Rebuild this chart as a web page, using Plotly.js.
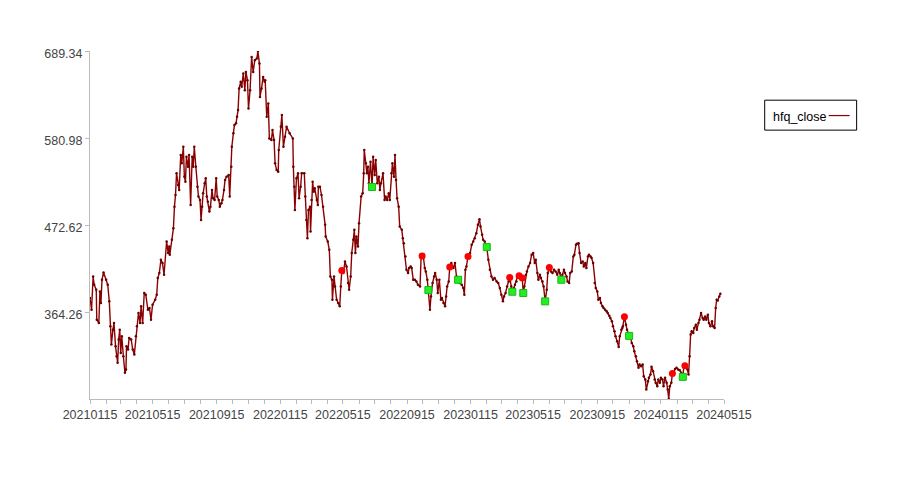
<!DOCTYPE html>
<html>
<head>
<meta charset="utf-8">
<script src="https://cdn.plot.ly/plotly-3.0.1.min.js"></script>
<style>html,body{margin:0;padding:0;background:#fff;}#chart{width:900px;height:500px;}</style>
</head>
<body>
<div id="chart"></div>
<script>
// Trading days as day offsets from the first date (2021-01-15)
const startDate = '2021-01-15';
const dayOffsets = [
0,3,6,8,12,13,17,19,21,23,26,31,34,37,39,41,44,46,49,51,53,55,57,59,61,64,67,69,70,73,75,79,82,85,88,90,93,96,98,101,104,107,111,114,117,120,125,128,130,133,136,139,142,147,150,152,
153,157,160,162,164,166,169,171,174,176,179,181,183,185,188,190,193,196,198,200,203,206,208,211,213,215,217,220,222,224,226,229,231,234,236,239,242,244,247,249,252,254,257,259,262,266,268,271,272,275,277,280,282,284,286,289,291,294,297,299,302,304,307,310,313,316,320,322,325,326,329,332,335,
336,339,342,344,348,350,353,355,358,361,362,366,368,371,374,377,383,389,390,392,393,396,399,401,404,406,411,413,415,417,419,422,423,425,427,429,431,435,437,438,441,444,447,451,452,456,459,461,464,465,468,470,473,476,479,481,483,486,489,492,495,497,500,502,505,
507,509,511,514,516,520,523,525,526,529,531,533,535,538,541,543,546,548,551,554,556,558,562,565,567,570,573,575,578,580,583,585,587,589,592,594,598,600,602,605,607,610,612,615,617,620,623,626,629,633,635,637,639,642,644,647,649,652,654,657,660,662,665,667,670,673,675,678,
681,683,685,688,690,693,697,700,703,706,709,713,716,718,720,722,725,729,732,735,738,741,744,747,749,752,754,757,761,764,767,770,773,776,780,783,786,789,792,794,797,800,803,805,808,810,813,815,818,820,823,826,829,831,833,836,838,841,844,
847,850,853,855,858,860,863,865,868,870,873,876,878,881,884,887,890,893,896,899,901,904,906,909,911,914,916,919,921,924,927,929,932,934,937,939,942,945,947,950,952,955,957,960,962,965,968,970,973,975,978,980,983,985,988,991,993,996,998,1001,1003,1006,1008,1011,1014,1016,1019,1021,1022,1025,1028,1030,1034,1037,1039,1042,1044,1047,1049,1052,1054,1057,1060,1062,1065,1067,1070,1072,1075,1077,1080,1083,1085,1088,1090,1093,1095,1098,1100,1103,1106,1108,1110,1112,1115,1117,1120,1122,1125,1128,1131,1134,1137,1139,1141,1144,1146,1148,1150,1152,1154,1157,1159,1162,1164,1167,1169,1172,1175,1177,1180,1182,1185,1187,1190,1193,1195,1198,1200,1202,1204,1207,1209
];
const hfqClose = [
381.7,367.1,408.5,398.2,392.0,354.7,350.6,389.9,375.5,404.4,413.5,404.4,398.2,377.5,346.4,323.7,342.3,350.6,321.5,309.1,300.9,329.9,342.3,313.3,334.0,309.1,288.5,292.6,321.5,317.5,332.0,329.9,317.5,311.2,334.0,346.4,363.1,350.6,371.3,350.6,387.9,385.8,367.1,369.3,354.7,373.4,379.6,385.8,406.6,412.8,429.3,425.2,410.7,452.0,437.6,445.8,
435.5,454.2,468.7,495.5,510.0,537.0,522.5,516.3,559.7,549.4,570.1,532.8,526.6,557.6,545.2,559.7,497.6,557.6,545.2,570.1,545.2,520.4,508.0,503.9,479.0,495.5,512.2,524.6,530.8,508.0,501.7,489.3,495.5,516.3,506.0,503.9,530.8,508.0,503.9,495.5,499.8,503.9,516.3,528.7,532.8,534.9,508.0,545.2,570.1,586.8,597.1,599.2,607.4,615.7,642.7,650.9,644.7,661.3,640.5,663.3,653.0,617.8,640.5,681.9,663.3,677.8,680.0,689.34,673.7,632.2,642.7,657.1,650.9,
653.0,607.4,624.0,580.5,578.4,590.8,578.4,549.4,541.1,539.0,566.0,595.0,609.5,570.1,582.5,595.0,586.8,580.5,545.2,520.4,491.4,530.8,537.0,506.0,520.4,537.0,537.0,508.0,479.0,456.2,491.4,495.5,464.4,503.9,526.6,514.1,518.4,503.9,497.6,520.4,520.4,510.0,495.5,472.8,458.2,452.0,441.7,408.5,404.4,379.6,408.5,396.1,379.6,375.5,371.3,396.1,416.0,412.8,427.2,421.0,400.3,392.0,408.5,437.6,454.2,
466.6,437.6,458.2,445.8,474.9,508.0,512.2,537.0,566.0,549.4,537.0,545.2,524.6,551.5,520.0,557.6,534.9,553.5,524.6,532.8,516.3,524.6,537.0,503.9,508.0,503.9,512.2,503.9,537.0,549.4,532.8,559.7,528.7,506.0,495.5,470.7,466.6,456.2,450.0,433.4,416.9,412.8,419.0,421.0,419.0,404.4,404.4,402.3,398.2,396.1,431.4,433.9,435.5,419.0,414.8,404.4,391.6,367.1,383.7,400.3,408.5,412.8,404.4,387.9,404.4,379.6,381.7,375.5,
371.3,383.7,396.1,402.3,420.2,425.2,419.0,425.2,408.5,404.4,400.3,398.2,394.1,385.8,416.9,421.0,433.4,437.6,447.9,452.0,456.2,462.5,472.8,479.9,470.7,460.4,454.2,452.0,445.1,429.3,416.9,408.5,404.4,406.6,402.3,400.3,394.1,385.8,377.5,383.7,387.9,396.1,402.3,407.3,396.1,389.5,394.1,398.2,402.3,408.5,409.4,408.5,406.6,387.9,396.1,410.7,414.8,421.0,425.2,
435.5,437.6,425.2,429.3,412.8,404.4,410.7,406.6,402.3,396.1,377.5,392.0,412.8,419.7,414.8,412.8,416.9,414.8,410.7,416.9,412.8,404.4,410.7,416.9,412.8,408.5,402.3,400.3,412.8,414.8,433.4,435.5,447.9,449.2,450.0,437.6,425.2,427.2,421.0,425.2,419.0,433.4,435.5,433.4,431.4,425.2,400.3,394.1,389.9,379.6,381.7,375.5,371.3,369.3,367.1,365.1,363.1,359.7,356.9,352.6,346.4,340.2,334.0,327.8,320.8,334.0,342.3,344.4,346.4,358.4,348.5,342.3,334.5,332.0,325.8,321.5,315.3,309.1,302.9,294.7,298.8,296.7,298.8,284.3,280.2,267.7,278.1,282.3,286.4,296.0,290.5,280.2,276.1,271.9,280.2,276.1,282.3,280.2,271.9,282.3,276.1,267.7,255.9,271.9,276.1,287.6,288.5,293.4,294.7,292.6,291.7,288.5,283.5,296.0,297.2,296.7,292.6,286.4,309.1,336.1,340.2,338.2,344.4,348.5,342.3,350.6,354.7,363.1,356.9,354.7,358.8,354.7,360.9,350.6,346.4,352.6,346.4,344.4,369.3,379.6,378.7,383.7,387.0
];
// Buy (red circle) and sell (green square) signals
const buyOffsets = [483,637,690,725,805,823,829,881,1025,1117,1141];
const buyValues  = [416.0,433.9,420.2,433.4,407.3,409.4,406.6,419.7,358.4,287.6,297.2];
const sellOffsets = [541,649,706,761,810,831,873,904,1034,1137];
const sellValues  = [520.0,391.6,404.4,445.1,389.5,387.9,377.5,404.4,334.5,283.5];

// Axis ticks
const xTickDates  = ['2021-01-15','2021-05-15','2021-09-15','2022-01-15','2022-05-15','2022-09-15','2023-01-15','2023-05-15','2023-09-15','2024-01-15','2024-05-15'];
const xTickLabels = ['20210115','20210515','20210915','20220115','20220515','20220915','20230115','20230515','20230915','20240115','20240515'];
const yTickValues = [364.26,472.62,580.98,689.34];
const yTickLabels = ['364.26','472.62','580.98','689.34'];
const yRange = [255.9, 689.34];
const seriesName = 'hfq_close';

const base = Date.parse(startDate + 'T00:00:00Z');
const toDate = d => new Date(base + d * 86400000).toISOString().slice(0, 10);

const traces = [
  {
    x: dayOffsets.map(toDate), y: hfqClose, type: 'scatter', mode: 'lines+markers',
    name: seriesName, showlegend: false,
    line: {color: '#8b0000', width: 1.4},
    marker: {size: 2.5, color: '#6a0000'},
    hoverinfo: 'skip'
  },
  {
    x: buyOffsets.map(toDate), y: buyValues, type: 'scatter', mode: 'markers',
    showlegend: false, marker: {symbol: 'circle', size: 7, color: '#ff0000'}
  },
  {
    x: sellOffsets.map(toDate), y: sellValues, type: 'scatter', mode: 'markers',
    showlegend: false, marker: {symbol: 'square', size: 7, color: '#22ee22', line: {color: '#18b818', width: 1}}
  }
];

const tickFont = {family: 'Liberation Sans, Arial, sans-serif', size: 12.5, color: '#444'};

const layout = {
  width: 900, height: 500,
  paper_bgcolor: '#fff', plot_bgcolor: '#fff',
  margin: {l: 90, r: 176, t: 50.5, b: 100.5},
  showlegend: false,
  xaxis: {
    type: 'date', range: [xTickDates[0], xTickDates[xTickDates.length - 1]],
    tickmode: 'array', tickvals: xTickDates, ticktext: xTickLabels,
    ticks: 'outside', ticklen: 4, tickcolor: '#bbb', tickwidth: 1,
    minor: {tickmode: 'linear', tick0: '2021-01-15', dtick: 'M1', ticks: 'outside', ticklen: 4, tickcolor: '#bbb', showgrid: false},
    showline: true, linecolor: '#bbb', linewidth: 1,
    showgrid: false, zeroline: false, tickfont: tickFont
  },
  yaxis: {
    range: yRange, tickmode: 'array', tickvals: yTickValues, ticktext: yTickLabels,
    ticks: 'outside', ticklen: 4, tickcolor: '#bbb', ticklabelshift: 3,
    showline: true, linecolor: '#bbb', linewidth: 1,
    showgrid: false, zeroline: false, tickfont: tickFont
  },
  shapes: [
    {type: 'rect', xref: 'paper', yref: 'paper', x0: 1.0642, x1: 1.2092, y0: 0.7726, y1: 0.8587,
     line: {color: '#000', width: 1}, fillcolor: '#fff'},
    {type: 'line', xref: 'paper', yref: 'paper', x0: 1.1651, x1: 1.1982, y0: 0.8145, y1: 0.8145,
     line: {color: '#8b0000', width: 1.2}}
  ],
  annotations: [
    {xref: 'paper', yref: 'paper', x: 1.0747, y: 0.8115, xanchor: 'left', yanchor: 'middle',
     text: seriesName, showarrow: false,
     font: {family: 'Liberation Sans, Arial, sans-serif', size: 12.5, color: '#000'}}
  ]
};

Plotly.newPlot('chart', traces, layout, {displayModeBar: false, staticPlot: true});
</script>
</body>
</html>
